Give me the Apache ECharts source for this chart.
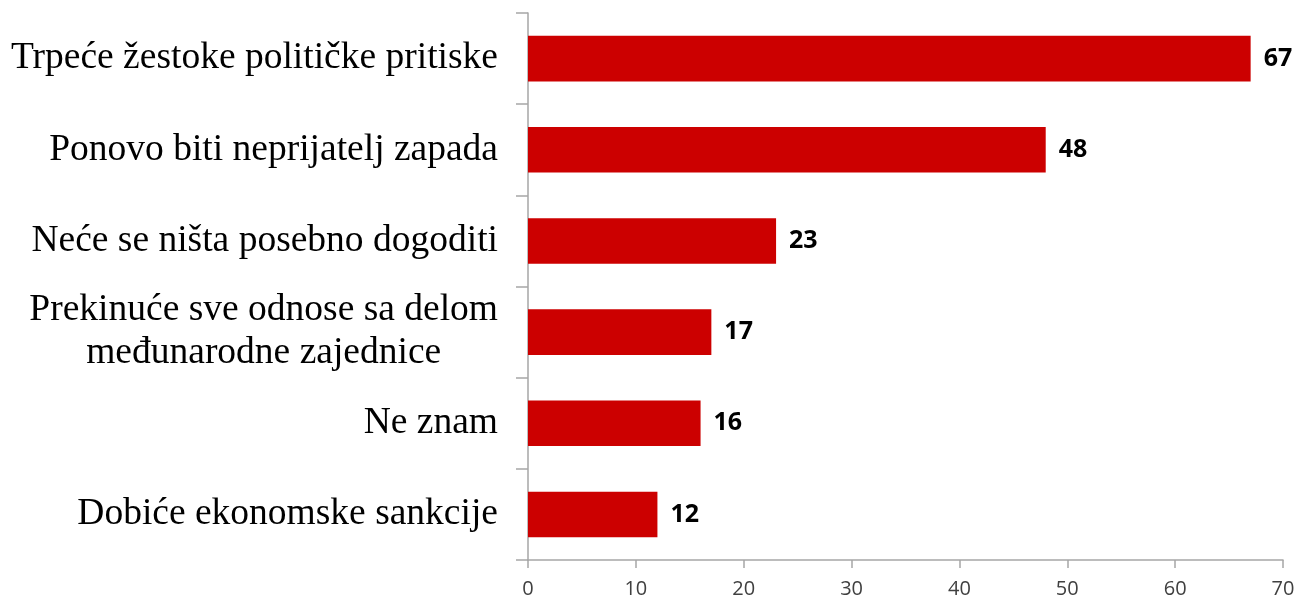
<!DOCTYPE html>
<html>
<head>
<meta charset="utf-8">
<script src="https://cdn.jsdelivr.net/npm/echarts@6/dist/echarts.min.js"></script>
<style>
    html, body { margin: 0; padding: 0; background: #fff; }
    #chart { width: 1300px; height: 600px; }
</style>
</head>
<body>
<div id="chart"></div>
<script>
  // kategorije odozgo nadole
  var categories = [
    'Trpeće žestoke političke pritiske',
    'Ponovo biti neprijatelj zapada',
    'Neće se ništa posebno dogoditi',
    'Prekinuće sve odnose sa delom\nmeđunarodne zajednice',
    'Ne znam',
    'Dobiće ekonomske sankcije'
  ]
  var values = [67, 48, 23, 17, 16, 12]
  var axisMin = 0
  var axisMax = 70
  var axisStep = 10

  var myChart = echarts.init(document.getElementById('chart'))
  var option = {
    animation: false,
    grid: {
      left: 528,
      right: 17,
      top: 13,
      bottom: 40,
      outerBoundsMode: 'none'
    },
    xAxis: {
      type: 'value',
      min: axisMin,
      max: axisMax,
      interval: axisStep,
      axisLine: { show: true, lineStyle: { color: '#a6a6a6', width: 1.5 } },
      axisTick: { show: true, length: 8, lineStyle: { color: '#a6a6a6', width: 1.5 } },
      splitLine: { show: false },
      axisLabel: {
        margin: 19,
        fontFamily: 'Open Sans',
        fontSize: 20,
        color: '#404040'
      }
    },
    yAxis: {
      type: 'category',
      inverse: true,
      data: categories,
      axisLine: { show: true, lineStyle: { color: '#a6a6a6', width: 1.5 } },
      axisTick: { show: true, length: 12, alignWithLabel: false, lineStyle: { color: '#a6a6a6', width: 1.5 } },
      axisLabel: {
        margin: 30,
        formatter: function (v) {
          return v.split('\n').map(function (l) { return '{c|' + l + '}' }).join('\n')
        },
        rich: {
          c: {
            align: 'center',
            fontFamily: 'Liberation Serif',
            fontSize: 37.5,
            lineHeight: 43,
            color: '#000'
          }
        }
      }
    },
    series: [
      {
        type: 'bar',
        data: values,
        barCategoryGap: '50%',
        itemStyle: { color: '#cc0000' },
        label: {
          show: true,
          position: 'right',
          distance: 13,
          fontFamily: 'Open Sans',
          fontWeight: 'bold',
          fontSize: 25,
          color: '#000'
        }
      }
    ]
  }
  myChart.setOption(option)
</script>
</body>
</html>
